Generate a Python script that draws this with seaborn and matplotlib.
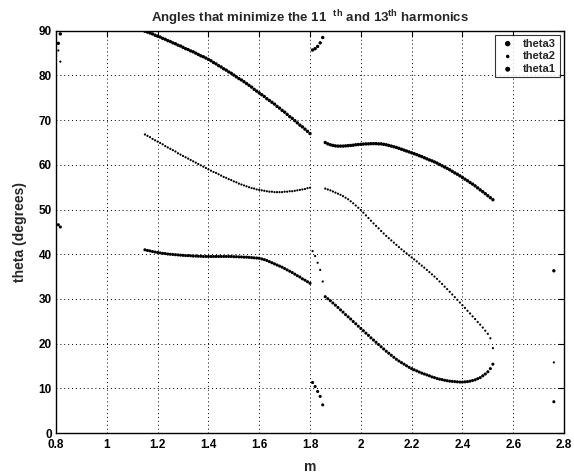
import numpy as np
import pandas as pd
import matplotlib
matplotlib.use("Agg")
import matplotlib.pyplot as plt
import seaborn as sns

# m samples on the two main branches (step 0.01)
m_a = np.round(np.arange(1.15, 1.805, 0.01), 2)
m_b = np.round(np.arange(1.86, 2.525, 0.01), 2)

theta3_a = [89.9, 89.7, 89.5, 89.3, 89.0, 88.8, 88.6, 88.3, 88.1, 87.8,
            87.6, 87.3, 87.1, 86.8, 86.6, 86.3, 86.0, 85.8, 85.5, 85.3,
            85.0, 84.7, 84.4, 84.2, 83.9, 83.6, 83.3, 82.9, 82.6, 82.2,
            81.9, 81.5, 81.2, 80.8, 80.5, 80.1, 79.7, 79.3, 79.0, 78.6,
            78.2, 77.8, 77.4, 76.9, 76.5, 76.1, 75.7, 75.3, 74.8, 74.4,
            74.0, 73.6, 73.1, 72.7, 72.2, 71.8, 71.3, 70.8, 70.4, 69.9,
            69.4, 68.9, 68.5, 68.0, 67.5, 67.0]
theta2_a = [66.8, 66.5, 66.2, 65.8, 65.5, 65.2, 64.9, 64.6, 64.2, 63.9,
            63.6, 63.3, 63.0, 62.6, 62.3, 62.0, 61.7, 61.4, 61.1, 60.8,
            60.5, 60.2, 59.9, 59.6, 59.3, 59.0, 58.7, 58.4, 58.2, 57.9,
            57.6, 57.3, 57.1, 56.8, 56.6, 56.3, 56.1, 55.8, 55.6, 55.4,
            55.2, 55.0, 54.8, 54.7, 54.5, 54.4, 54.3, 54.2, 54.1, 54.0,
            54.0, 53.9, 53.9, 53.9, 53.9, 54.0, 54.0, 54.1, 54.1, 54.2,
            54.3, 54.4, 54.5, 54.6, 54.8, 54.9]
theta1_a = [41.0, 40.85, 40.75, 40.6, 40.5, 40.4, 40.3, 40.2, 40.15, 40.05,
            40.0, 39.95, 39.9, 39.85, 39.8, 39.75, 39.7, 39.7, 39.65, 39.6,
            39.6, 39.55, 39.55, 39.5, 39.5, 39.5, 39.5, 39.5, 39.5, 39.5,
            39.5, 39.5, 39.5, 39.5, 39.5, 39.45, 39.45, 39.4, 39.4, 39.35,
            39.35, 39.3, 39.25, 39.2, 39.15, 39.1, 38.95, 38.8, 38.6, 38.35,
            38.1, 37.85, 37.6, 37.35, 37.1, 36.8, 36.5, 36.2, 35.9, 35.55,
            35.2, 34.9, 34.5, 34.2, 33.85, 33.5]

theta3_b = [65.0, 64.7, 64.5, 64.35, 64.25, 64.2, 64.2, 64.2, 64.25, 64.3,
            64.35, 64.4, 64.5, 64.55, 64.6, 64.65, 64.7, 64.7, 64.75, 64.75,
            64.75, 64.7, 64.7, 64.6, 64.5, 64.35, 64.2, 64.05, 63.9, 63.7,
            63.5, 63.3, 63.1, 62.9, 62.7, 62.5, 62.3, 62.05, 61.85, 61.6,
            61.35, 61.1, 60.9, 60.65, 60.4, 60.1, 59.8, 59.5, 59.2, 58.9,
            58.55, 58.2, 57.9, 57.55, 57.2, 56.8, 56.45, 56.05, 55.7, 55.3,
            54.85, 54.4, 54.0, 53.55, 53.1, 52.65, 52.2]
theta2_b = [54.7, 54.5, 54.3, 54.05, 53.8, 53.55, 53.3, 53.0, 52.65, 52.3,
            51.85, 51.4, 50.9, 50.4, 49.9, 49.3, 48.7, 48.1, 47.5, 46.9,
            46.35, 45.8, 45.2, 44.65, 44.1, 43.6, 43.1, 42.6, 42.1, 41.6,
            41.1, 40.65, 40.2, 39.75, 39.3, 38.85, 38.4, 37.9, 37.45, 37.0,
            36.5, 36.0, 35.5, 35.0, 34.5, 33.9, 33.35, 32.75, 32.2, 31.6,
            31.0, 30.4, 29.8, 29.2, 28.6, 28.0, 27.35, 26.75, 26.1, 25.5,
            24.85, 24.25, 23.6, 22.9, 22.2, 21.2, 19.0]
theta1_b = [30.5, 30.05, 29.6, 29.1, 28.6, 28.1, 27.55, 27.05, 26.5, 26.0,
            25.5, 24.95, 24.45, 23.9, 23.4, 22.9, 22.35, 21.85, 21.3, 20.8,
            20.3, 19.8, 19.3, 18.8, 18.3, 17.85, 17.4, 16.95, 16.5, 16.1,
            15.75, 15.4, 15.05, 14.7, 14.4, 14.15, 13.9, 13.65, 13.4, 13.2,
            13.0, 12.8, 12.55, 12.4, 12.2, 12.05, 11.95, 11.8, 11.7, 11.6,
            11.55, 11.5, 11.45, 11.4, 11.4, 11.45, 11.5, 11.6, 11.75, 11.9,
            12.15, 12.4, 12.8, 13.2, 13.7, 14.4, 15.4]

# stray solutions
m_left = [0.809, 0.817]
theta3_left = [87.2, 89.3]
theta2_left = [85.6, 83.1]
theta1_left = [46.6, 46.1]

m_mid = [1.81, 1.82, 1.83, 1.84, 1.85]
theta3_mid = [85.7, 86.0, 86.5, 87.3, 88.5]
theta2_mid = [40.7, 39.6, 38.1, 36.5, 33.9]
theta1_mid = [11.3, 10.4, 9.3, 8.2, 6.3]

m_right = [2.76]
theta3_right = [36.3]
theta2_right = [15.8]
theta1_right = [7.0]


def series(name, a, b, left, mid, right):
    m = list(m_left) + list(m_a) + list(m_mid) + list(m_b) + list(m_right)
    th = list(left) + list(a) + list(mid) + list(b) + list(right)
    return pd.DataFrame({"m": m, "theta": th, "name": name})


df = pd.concat([
    series("theta3", theta3_a, theta3_b, theta3_left, theta3_mid, theta3_right),
    series("theta2", theta2_a, theta2_b, theta2_left, theta2_mid, theta2_right),
    series("theta1", theta1_a, theta1_b, theta1_left, theta1_mid, theta1_right),
])

sns.set_style("white")
plt.rcParams["font.family"] = ["Liberation Sans", "DejaVu Sans"]
plt.rcParams["font.weight"] = "bold"
plt.rcParams["mathtext.fontset"] = "custom"
plt.rcParams["mathtext.rm"] = "Liberation Sans:bold"
plt.rcParams["mathtext.bf"] = "Liberation Sans:bold"
plt.rcParams["mathtext.default"] = "bf"

fig = plt.figure(figsize=(5.74, 4.76), dpi=100)
ax = fig.add_axes([0.0976, 0.0903, 0.885, 0.845])

sizes = {"theta3": 6, "theta2": 2.5, "theta1": 5}
for name in ["theta3", "theta2", "theta1"]:
    sub = df[df["name"] == name]
    sns.scatterplot(data=sub, x="m", y="theta", ax=ax, s=sizes[name],
                    color="black", edgecolor="none", linewidth=0, label=name)

ax.set_xlim(0.8, 2.8)
ax.set_ylim(0, 90)
ax.set_xticks(np.round(np.arange(0.8, 2.81, 0.2), 1))
ax.set_xticklabels(["0.8", "1", "1.2", "1.4", "1.6", "1.8", "2", "2.2", "2.4", "2.6", "2.8"])
ax.set_yticks(range(0, 91, 10))
ax.grid(True, linestyle=(0, (1, 3)), color="black", linewidth=0.7)
ax.tick_params(direction="in", top=True, right=True, length=4, width=0.8,
               labelsize=8.5, colors="black")
ax.tick_params(axis="x", pad=4)
ax.tick_params(axis="y", pad=3)
for lab in ax.get_xticklabels() + ax.get_yticklabels():
    lab.set_fontweight("bold")
for sp in ax.spines.values():
    sp.set_color("black")
    sp.set_linewidth(1.0)

ax.set_title(r"Angles that minimize the 11  $^{th}$ and 13$^{th}$ harmonics",
             fontsize=9.5, fontweight="bold", pad=6)
ax.set_xlabel("m", fontsize=10, fontweight="bold", labelpad=7)
ax.set_ylabel("theta (degrees)", fontsize=10, fontweight="bold", labelpad=8)

leg = ax.legend(loc="upper right", frameon=True, fancybox=False, fontsize=8,
                markerscale=1.6, handletextpad=0.6, labelspacing=0.25,
                borderpad=0.3, borderaxespad=0.4, handlelength=1.6)
leg.get_frame().set_edgecolor("black")
leg.get_frame().set_linewidth(0.8)
for t in leg.get_texts():
    t.set_fontweight("bold")

fig.savefig("out.png", dpi=100)
